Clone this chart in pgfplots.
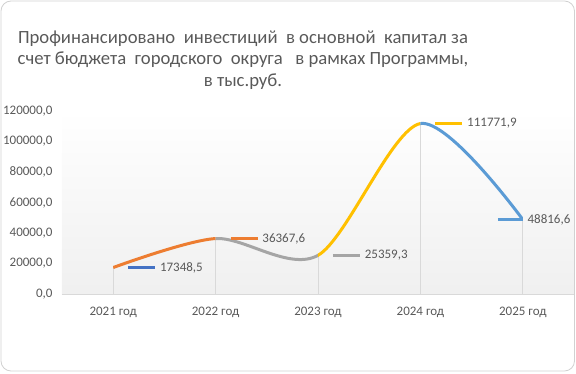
\documentclass[border=0pt]{standalone}
\usepackage{fontspec}
\setmainfont{Carlito}
\usepackage{pgfplots}
\pgfplotsset{compat=1.18}
\definecolor{cA}{HTML}{4472C4}
\definecolor{cB}{HTML}{ED7D31}
\definecolor{cC}{HTML}{A5A5A5}
\definecolor{cD}{HTML}{FFC000}
\definecolor{cE}{HTML}{5B9BD5}
\definecolor{tgray}{HTML}{595959}
\definecolor{lgray}{HTML}{D9D9D9}
\begin{document}
\begin{tikzpicture}
\useasboundingbox (0,0) rectangle (576pt,373pt);
\draw[draw=black!18, line width=0.8pt, rounded corners=10pt] (1pt,2pt) rectangle (574.5pt,372pt);
\node[align=center, text=tgray, font=\fontsize{18.67}{21.5}\selectfont] at (243pt,313pt)
  {Профинансировано~~инвестиций~~в основной~~капитал за\\
   счет бюджета~~городского~~округа~~~в рамках Программы,\\
   в тыс.руб.};
\begin{axis}[
  at={(62pt,79pt)}, anchor=south west, scale only axis,
  width=512pt, height=183pt,
  xmin=-0.5, xmax=4.5, ymin=0, ymax=120000,
  xtick={0,1,2,3,4},
  xticklabels={2021 год,2022 год,2023 год,2024 год,2025 год},
  ytick={0,20000,40000,60000,80000,100000,120000},
  scaled y ticks=false,
  /pgf/number format/assume math mode=true,
  yticklabel style={xshift=-6pt, /pgf/number format/.cd, fixed, fixed zerofill, precision=1, use comma, 1000 sep={}},
  xticklabel style={yshift=-10pt},
  tick label style={font=\fontsize{13}{15}\selectfont, text=tgray},
  major tick length=0pt,
  axis x line*=bottom, axis y line*=left,
  y axis line style={draw=none},
  x axis line style={draw=lgray, line width=0.8pt},
  axis background/.style={top color=white, bottom color=black!6},
  clip=false,
]
\addplot[ycomb, draw=lgray, line width=0.8pt, mark=none] coordinates {(0,17348.5) (1,36367.6) (2,25359.3) (3,111771.9) (4,48816.6)};
\begin{scope}
\clip (axis cs:0,-20000) rectangle (axis cs:1,140000);
\addplot[smooth, cB, line width=3pt, mark=none] coordinates {(0,17348.5) (1,36367.6) (2,25359.3) (3,111771.9) (4,48816.6)};
\end{scope}
\begin{scope}
\clip (axis cs:1,-20000) rectangle (axis cs:2,140000);
\addplot[smooth, cC, line width=3pt, mark=none] coordinates {(0,17348.5) (1,36367.6) (2,25359.3) (3,111771.9) (4,48816.6)};
\end{scope}
\begin{scope}
\clip (axis cs:2,-20000) rectangle (axis cs:3,140000);
\addplot[smooth, cD, line width=3pt, mark=none] coordinates {(0,17348.5) (1,36367.6) (2,25359.3) (3,111771.9) (4,48816.6)};
\end{scope}
\begin{scope}
\clip (axis cs:3,-20000) rectangle (axis cs:4,140000);
\addplot[smooth, cE, line width=3pt, mark=none] coordinates {(0,17348.5) (1,36367.6) (2,25359.3) (3,111771.9) (4,48816.6)};
\end{scope}
\draw[cA, line width=3pt] ([xshift=15pt]axis cs:0,17348.5) -- ([xshift=42pt]axis cs:0,17348.5)
  node[anchor=west, text=tgray, font=\fontsize{13}{15}\selectfont, xshift=0pt]{17348,5};
\draw[cB, line width=3pt] ([xshift=15pt]axis cs:1,36367.6) -- ([xshift=42pt]axis cs:1,36367.6)
  node[anchor=west, text=tgray, font=\fontsize{13}{15}\selectfont, xshift=0pt]{36367,6};
\draw[cC, line width=3pt] ([xshift=15pt]axis cs:2,25359.3) -- ([xshift=42pt]axis cs:2,25359.3)
  node[anchor=west, text=tgray, font=\fontsize{13}{15}\selectfont, xshift=0pt]{25359,3};
\draw[cD, line width=3pt] ([xshift=15pt]axis cs:3,111771.9) -- ([xshift=42pt]axis cs:3,111771.9)
  node[anchor=west, text=tgray, font=\fontsize{13}{15}\selectfont, xshift=0pt]{111771,9};
\draw[cE, line width=3pt] ([xshift=-25pt]axis cs:4,48816.6) -- (axis cs:4,48816.6)
  node[anchor=west, text=tgray, font=\fontsize{13}{15}\selectfont, xshift=0pt]{48816,6};
\end{axis}
\end{tikzpicture}
\end{document}
